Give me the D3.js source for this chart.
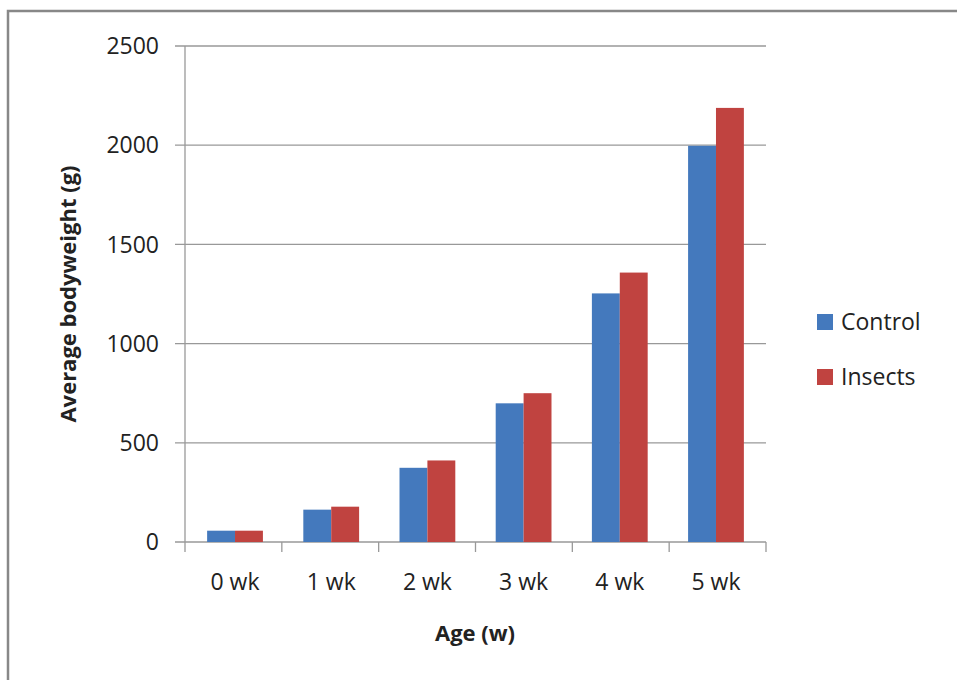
<!DOCTYPE html>
<html><head><meta charset="utf-8">
<script src="https://cdn.jsdelivr.net/npm/d3@7"></script>
<style>body{margin:0;background:#fff}text{font-family:"Open Sans",sans-serif;fill:#222}</style>
</head><body><svg id="c" width="957" height="680"></svg>
<script>
const categories = ['0 wk', '1 wk', '2 wk', '3 wk', '4 wk', '5 wk'];
const control = [57, 163, 374, 699, 1253, 1997];
const insects = [57, 178, 411, 750, 1358, 2188];
const series = ['Control', 'Insects'];
const colors = ['#4479bd', '#c04340'];
const yTicks = [0, 500, 1000, 1500, 2000, 2500];

const svg = d3.select('#c');
svg.append('rect').attr('x', 8).attr('y', 11).attr('width', 960).attr('height', 680)
  .attr('fill', 'none').attr('stroke', '#888').attr('stroke-width', 2.5);

const x = d3.scaleBand().domain(categories).range([185, 766]).paddingInner(0.42).paddingOuter(0.23);
const xs = d3.scaleBand().domain(series).range([0, x.bandwidth()]);
const y = d3.scaleLinear().domain([0, 2500]).range([542, 46]);

svg.append('g').selectAll('line').data(yTicks).join('line')
  .attr('x1', 175).attr('x2', 766).attr('y1', d => y(d)).attr('y2', d => y(d))
  .attr('stroke', '#999').attr('stroke-width', 1.3);
svg.append('line').attr('x1', 185).attr('x2', 185).attr('y1', 46).attr('y2', 542).attr('stroke', '#999').attr('stroke-width', 1.3);
const step = 581 / categories.length;
svg.append('g').selectAll('line').data(d3.range(categories.length + 1)).join('line')
  .attr('x1', d => 185 + d * step).attr('x2', d => 185 + d * step).attr('y1', 542).attr('y2', 552)
  .attr('stroke', '#999').attr('stroke-width', 1.3);

svg.append('g').selectAll('text').data(yTicks).join('text')
  .attr('x', 159).attr('y', d => y(d)).attr('dy', '0.36em').attr('text-anchor', 'end')
  .attr('font-size', 23).text(d => d);
svg.append('g').selectAll('text').data(categories).join('text')
  .attr('x', d => x(d) + x.bandwidth() / 2).attr('y', 590).attr('text-anchor', 'middle')
  .attr('font-size', 23).text(d => d);

[control, insects].forEach((vals, si) => {
  svg.append('g').selectAll('rect').data(vals).join('rect')
    .attr('x', (d, i) => x(categories[i]) + xs(series[si]))
    .attr('width', xs.bandwidth()).attr('y', d => y(d)).attr('height', d => 542 - y(d))
    .attr('fill', colors[si]);
});

svg.append('text').attr('x', 475).attr('y', 641).attr('text-anchor', 'middle')
  .attr('font-size', 22).attr('font-weight', 'bold').text('Age (w)');
svg.append('text').attr('transform', 'translate(76,294) rotate(-90)').attr('text-anchor', 'middle')
  .attr('font-size', 22).attr('font-weight', 'bold').text('Average bodyweight (g)');

series.forEach((s, i) => {
  const ly = 322 + i * 55;
  svg.append('rect').attr('x', 817).attr('y', ly - 8).attr('width', 16).attr('height', 16).attr('fill', colors[i]);
  svg.append('text').attr('x', 841).attr('y', ly).attr('dy', '0.36em').attr('font-size', 23).text(s);
});
</script></body></html>
